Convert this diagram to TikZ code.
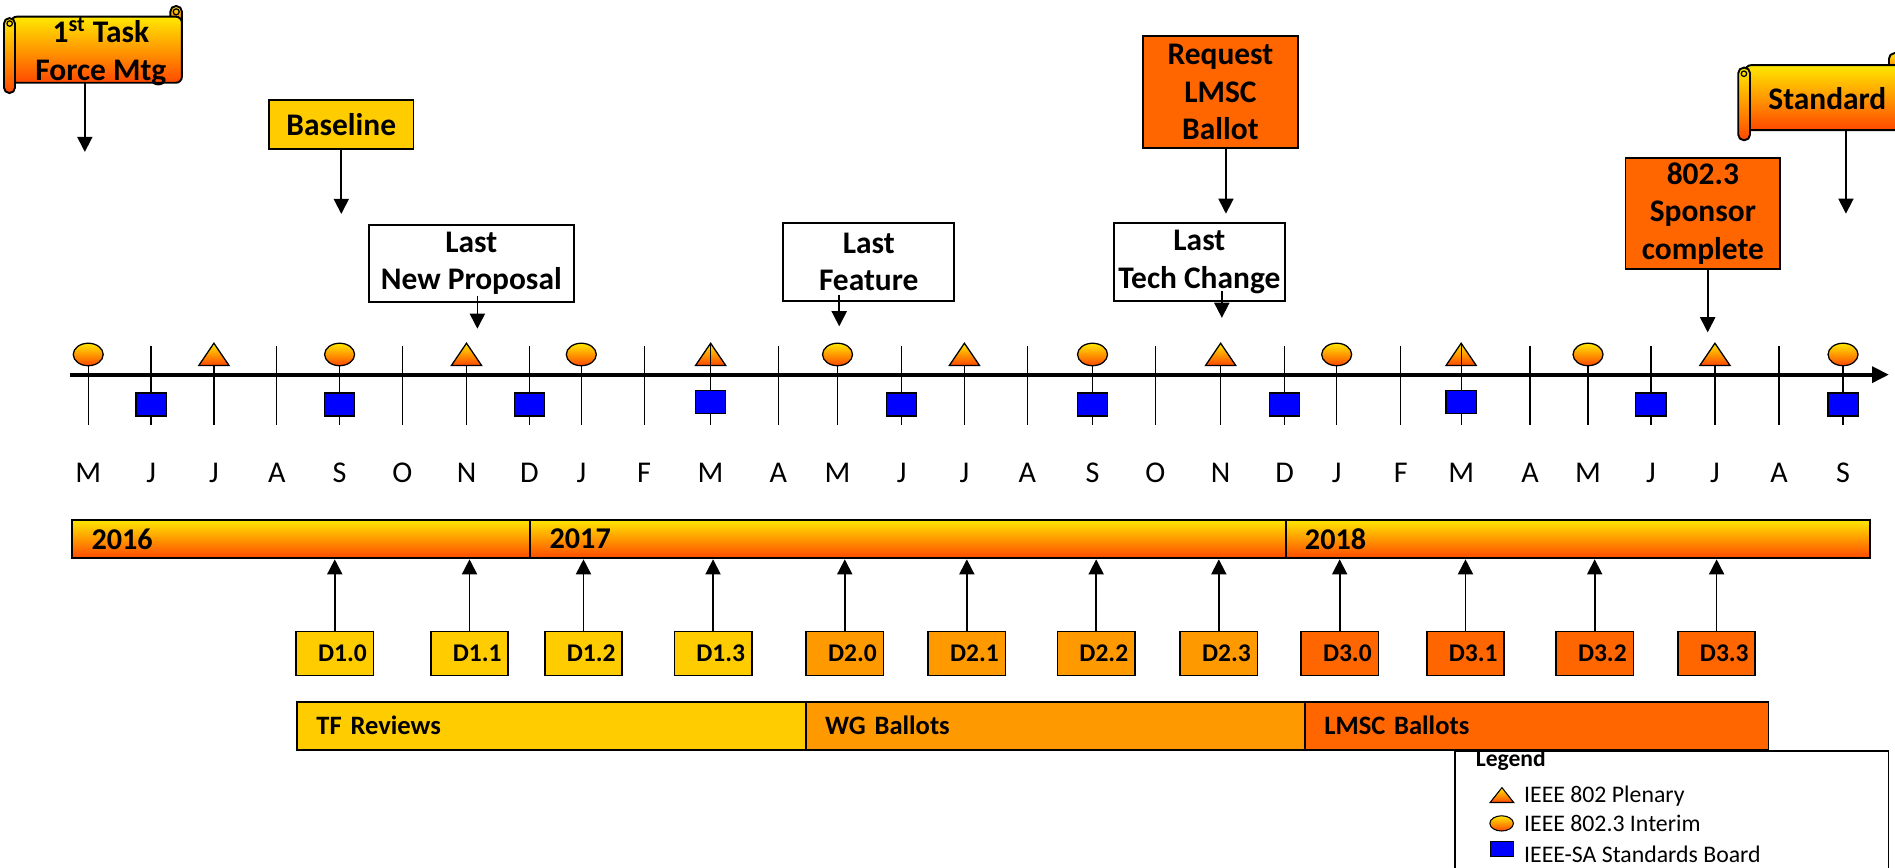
\documentclass[tikz,border=0pt]{standalone}
\usepackage{fontspec}
\setmainfont{Carlito}
\usetikzlibrary{arrows.meta,calc}
\definecolor{gold}{RGB}{255,204,0}
\definecolor{amber}{RGB}{255,153,0}
\definecolor{pumpkin}{RGB}{255,102,0}
\definecolor{shadetop}{RGB}{255,232,0}
\definecolor{shadebot}{RGB}{255,72,0}
\definecolor{boardblue}{RGB}{0,0,255}

\begin{document}
\begin{tikzpicture}[x=0.2mm,y=-0.2mm]
 \tikzstyle{every node}=[inner sep=0pt,align=center,font=\fontsize{14.8}{17.6}\selectfont\bfseries]
 \tikzstyle{arr}=[line width=0.8pt,-{Triangle[length=2.5mm,width=2.5mm]}]
 \tikzstyle{topbox}=[draw,line width=0.9pt]
 \tikzstyle{scrollpart}=[draw,line width=0.9pt,top color=shadetop,bottom color=shadebot]
 \tikzstyle{barbox}=[draw,line width=0.9pt,anchor=west,align=left,inner xsep=3.2mm]
 \tikzstyle{yearbar}=[barbox,top color=shadetop,bottom color=shadebot,minimum height=6.4mm,font=\fontsize{14.2}{17}\selectfont\bfseries]
 \tikzstyle{phasebar}=[barbox,minimum height=8mm,font=\fontsize{12.5}{15}\selectfont\bfseries]
 \tikzstyle{draftbox}=[draw,line width=0.8pt,minimum height=7.3mm,text width=10.6mm,align=right,inner xsep=1.1mm,font=\fontsize{12}{14}\selectfont\bfseries]
 \tikzstyle{monthlabel}=[anchor=base,font=\fontsize{14.2}{17}\selectfont]
 \tikzstyle{monthtick}=[line width=0.6pt]
 \tikzstyle{interim}=[draw,line width=0.6pt,top color=shadetop,bottom color=shadebot]
 \tikzstyle{plenary}=[draw,line width=0.6pt,top color=shadetop,bottom color=shadebot]
 \tikzstyle{board}=[draw,line width=0.6pt,fill=boardblue]
 \tikzstyle{legendtext}=[anchor=base west,font=\fontsize{11.2}{13.4}\selectfont]

 \useasboundingbox (0,0) rectangle (1568,718);
 \clip (0,0) rectangle (1568,718);

 % months and ticks
 \foreach \m/\x [count=\i] in {M/73,J/125,J/177,A/229,S/281,O/333,N/386,D/438,J/481,F/533,M/588,A/644,M/693,J/746,J/798,A/850,S/904,O/956,N/1010,D/1063,J/1106,F/1159,M/1209,A/1266,M/1314,J/1366,J/1419,A/1472,S/1525}{
   \draw[monthtick] (\x,286) -- (\x,352);
   \node[monthlabel] (mon\i) at (\x,399.6) {\m};
 }
 \coordinate (t0) at (58,310);
 \coordinate (t1) at (1563,310);
 \draw[line width=1.9pt,-{Triangle[length=2.8mm,width=2.6mm]}] (t0) -- (t1);

 % meetings
 \foreach \x in {73,281,481,693,904,1106,1314,1525}
   \draw[interim] (\x,293.3) ellipse [x radius=2.48mm,y radius=1.86mm];
 \foreach \x in {177,386,588,798,1010,1209,1419}
   \draw[plenary] ({\x-12.5},302.4) -- (\x,284) -- ({\x+12.5},302.4) -- cycle;
 \foreach \x/\y in {125/334.7,281/334.7,438/334.7,588/332.7,746/334.7,904/334.7,1063/334.7,1209/332.7,1366/334.7,1525/334.7}
   \draw[board] ({\x-12.5},{\y-9.5}) rectangle ({\x+12.5},{\y+9.5});
 \foreach \x in {588,1209}
   \draw[monthtick] (\x,284) -- (\x,302.4);

 % years
 \node[yearbar,text width=69.4mm] (y2016) at (59,446) {2016};
 \node[yearbar,text width=118.6mm] (y2017) at (438,446) {2017};
 \node[yearbar,text width=90.3mm] (y2018) at (1063,446) {2018};

 % drafts
 \foreach \n/\x/\c [count=\i] in {D1.0/277/gold,D1.1/388.5/gold,D1.2/482.8/gold,D1.3/590/gold,D2.0/699/amber,D2.1/800/amber,D2.2/907/amber,D2.3/1008.5/amber,D3.0/1108.5/pumpkin,D3.1/1212.6/pumpkin,D3.2/1319.5/pumpkin,D3.3/1420.4/pumpkin}{
   \node[draftbox,fill=\c] (d\i) at (\x,540.8) {\n};
   \draw[arr] (d\i.north) -- (d\i.north |- y2017.south);
 }

 % phases
 \node[phasebar,fill=gold,text width=77.8mm] (tfr) at (245,600.5) {TF Reviews};
 \node[phasebar,fill=amber,text width=76.2mm] (wgb) at (666,600.5) {WG Ballots};
 \node[phasebar,fill=pumpkin,text width=70.3mm] (lmb) at (1079,600.5) {LMSC Ballots};

 % milestones
 \draw[scrollpart,rounded corners=0.9mm] (141,5) rectangle (150.5,22);
 \draw[line width=0.6pt] (145.8,9.8) circle [radius=0.5mm];
 \draw[scrollpart,rounded corners=1mm] (9,13.8) rectangle (150.5,68.5);
 \draw[scrollpart,rounded corners=0.9mm] (3.3,15) rectangle (12.4,77);
 \draw[line width=0.6pt] (8,19.5) circle [radius=0.45mm];
 \node (tf1) at (83.5,42.8) {1\textsuperscript{st} Task\\Force Mtg};
 \coordinate (tfbot) at (70.2,68.5);
 \coordinate (tfend) at (70.2,125.7);
 \draw[arr] (tfbot) -- (tfend);

 \draw[scrollpart,rounded corners=0.9mm] (1563,44) rectangle (1575,62);
 \draw[scrollpart,rounded corners=1mm] (1444,53.9) rectangle (1600,107.7);
 \draw[scrollpart,rounded corners=0.9mm] (1438.3,56) rectangle (1448,116);
 \draw[line width=0.6pt] (1443,61) circle [radius=0.45mm];
 \node (std) at (1512,81.5) {Standard};
 \coordinate (stdbot) at (1527.4,107.7);
 \coordinate (stdend) at (1527.4,176.8);
 \draw[arr] (stdbot) -- (stdend);

 \node[topbox,fill=gold,minimum width=23.9mm,minimum height=8mm] (base) at (282.4,103) {Baseline};
 \coordinate (baseend) at (282.4,177);
 \draw[arr] (base) -- (baseend);

 \node[topbox,fill=white,minimum width=34mm,minimum height=12.8mm] (lnp) at (390,218) {Last\\New Proposal};
 \coordinate (lnpend) at (395,272);
 \draw[arr] ($(lnp.south -| lnpend)+(0,-6)$) -- (lnpend);

 \node[topbox,fill=white,minimum width=28.3mm,minimum height=12.9mm] (lfe) at (718.8,216.7) {Last\\Feature};
 \coordinate (lfeend) at (694.4,270);
 \draw[arr] ($(lfe.south -| lfeend)+(0,-6)$) -- (lfeend);

 \node[topbox,fill=white,minimum width=28.2mm,minimum height=12.9mm] (ltc) at (992.4,216.7) {Last\\Tech Change};
 \coordinate (ltcend) at (1011,263);
 \draw[arr] ($(ltc.south -| ltcend)+(0,-9)$) -- (ltcend);

 \node[topbox,fill=pumpkin,minimum width=25.7mm,minimum height=18.5mm] (req) at (1009.8,76.1) {Request\\LMSC\\Ballot};
 \coordinate (reqend) at (1014.4,176.8);
 \draw[arr] (req.south -| reqend) -- (reqend);

 \node[topbox,fill=pumpkin,minimum width=25.6mm,minimum height=18.4mm] (spo) at (1409,176.7) {802.3\\Sponsor\\complete};
 \coordinate (spoend) at (1413,275);
 \draw[arr] (spo.south -| spoend) -- (spoend);

 % legend
 \draw[line width=0.6pt] (1204,621.3) rectangle (1562.5,760);
 \node[legendtext,font=\fontsize{11.1}{13.4}\selectfont\bfseries] (legtitle) at (1220.8,634.3) {Legend};
 \draw[plenary,line width=0.5pt] (1233,664) -- (1242.75,651.7) -- (1252.5,664) -- cycle;
 \node[legendtext] (legpl) at (1260.8,663.6) {IEEE 802 Plenary};
 \draw[interim,line width=0.5pt] (1242.5,681.3) ellipse [x radius=1.95mm,y radius=1.26mm];
 \node[legendtext] (legin) at (1260.8,687.6) {IEEE 802.3 Interim};
 \draw[board,line width=0.5pt] (1233,696.4) rectangle (1252,709);
 \node[legendtext] (legsb) at (1260.8,713.9) {IEEE-SA Standards Board};
\end{tikzpicture}
\end{document}
